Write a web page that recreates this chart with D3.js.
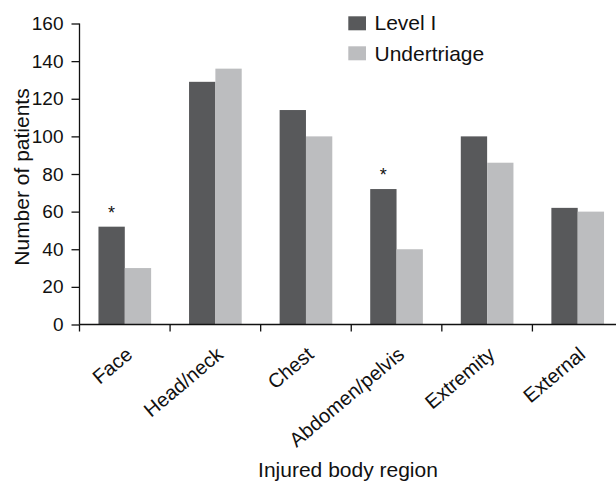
<!DOCTYPE html>
<html><head><meta charset="utf-8">
<script src="https://cdn.jsdelivr.net/npm/d3@7"></script>
<style>body{margin:0;background:#fff}svg{display:block;font-family:"Liberation Sans",Arial,sans-serif}</style>
</head><body>
<script>
const categories = ["Face","Head/neck","Chest","Abdomen/pelvis","Extremity","External"];
const seriesNames = ["Level I","Undertriage"];
const levelI = [52,129,114,72,100,62];
const undertriage = [30,136,100,40,86,60];
const significant = [true,false,false,true,false,false];
const yTicks = [0,20,40,60,80,100,120,140,160];
const colors = ["#58595b","#bcbdbf"];

(function(){
const W = 616, H = 483;
const svg = d3.select("body").append("svg").attr("width",W).attr("height",H);
const mLeft = 79.5, mRight = 623, mTop = 23.5, mBottom = 324.5;

const x = d3.scaleBand().domain(categories).range([mLeft,mRight]).padding(0);
const x1 = d3.scaleBand().domain(seriesNames).range([0,x.bandwidth()]).paddingInner(0).paddingOuter(0.72);
const y = d3.scaleLinear().domain([0,160]).range([mBottom,mTop]);

const data = categories.map((c,i)=>({cat:c, vals:[levelI[i],undertriage[i]], sig:significant[i]}));

const g = svg.append("g");
data.forEach(d=>{
  seriesNames.forEach((s,j)=>{
    g.append("rect")
      .attr("x", x(d.cat)+x1(s)).attr("width", x1.bandwidth())
      .attr("y", y(d.vals[j])).attr("height", y(0)-y(d.vals[j]))
      .attr("fill", colors[j]);
  });
  if(d.sig){
    svg.append("text").attr("x", x(d.cat)+x1(seriesNames[0])+x1.bandwidth()/2)
      .attr("y", y(d.vals[0])-8).attr("text-anchor","middle")
      .attr("font-size",18).attr("fill","#111").text("*");
  }
});

const yAxis = svg.append("g").attr("transform",`translate(${mLeft},0)`)
  .call(d3.axisLeft(y).tickValues(yTicks).tickSize(8).tickPadding(8).tickFormat(d3.format("d")));
yAxis.selectAll("text").attr("font-size",19).attr("fill","#111").attr("font-family","Liberation Sans, Arial, sans-serif");
yAxis.selectAll("line,path").attr("stroke","#111").attr("stroke-width",1.3);
yAxis.select(".domain").attr("d",`M0,${mTop}H0V${mBottom}`);

const bounds = categories.map(c=>x(c)).concat([mRight]);
const xa = svg.append("g");
xa.append("line").attr("x1",mLeft).attr("x2",mRight).attr("y1",mBottom).attr("y2",mBottom).attr("stroke","#111").attr("stroke-width",1.3);
xa.selectAll(".tk").data(bounds).enter().append("line")
  .attr("x1",d=>d).attr("x2",d=>d).attr("y1",mBottom).attr("y2",mBottom+7)
  .attr("stroke","#111").attr("stroke-width",1.3);
xa.selectAll(".lbl").data(categories).enter().append("text")
  .attr("transform",d=>`translate(${x(d)+x.bandwidth()/2+9},${mBottom+32}) rotate(-40)`)
  .attr("text-anchor","end")
  .attr("font-size",20).attr("fill","#111").text(d=>d);

svg.append("text").attr("x",348).attr("y",477).attr("text-anchor","middle")
  .attr("font-size",21).attr("fill","#111").text("Injured body region");
svg.append("text").attr("transform",`translate(28.5,177) rotate(-90)`)
  .attr("text-anchor","middle").attr("font-size",21).attr("fill","#111").text("Number of patients");

const lg = svg.append("g");
seriesNames.forEach((s,j)=>{
  lg.append("rect").attr("x",348.3).attr("y",16.3+j*30).attr("width",17.7).attr("height",14).attr("fill",colors[j]);
  lg.append("text").attr("x",374.5).attr("y",30.3+j*30.8).attr("font-size",21).attr("fill","#111").text(s);
});
})();
</script>
</body></html>
